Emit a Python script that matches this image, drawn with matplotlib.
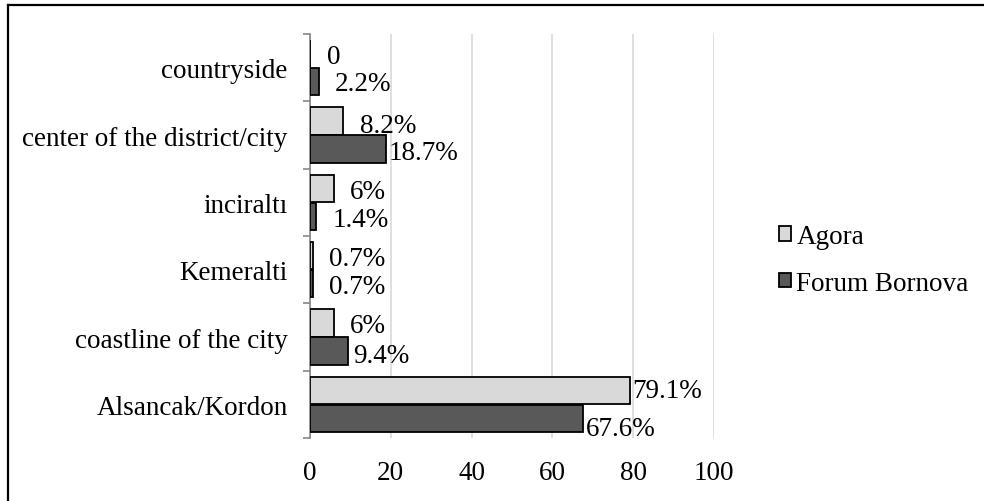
import matplotlib
matplotlib.use("Agg")
import matplotlib.pyplot as plt
from matplotlib.lines import Line2D
from matplotlib.patches import Patch
import numpy as np

plt.rcParams['font.family'] = ['Liberation Serif', 'DejaVu Serif']

categories = ["Alsancak/Kordon", "coastline of the city", "Kemeralti",
              "inciraltı", "center of the district/city", "countryside"]
agora = [79.1, 6, 0.7, 6, 8.2, 0]
forum = [67.6, 9.4, 0.7, 1.4, 18.7, 2.2]
agora_labels = ["79.1%", "6%", "0.7%", "6%", "8.2%", "0"]
forum_labels = ["67.6%", "9.4%", "0.7%", "1.4%", "18.7%", "2.2%"]
x_ticks = [0, 20, 40, 60, 80, 100]

# label nudges in pixels (dx right of bar end, dy downward)
agora_nudge = [(3, 0), (16, 3), (16, 3), (16, 3), (17, 5), (17, 3)]
forum_nudge = [(3, 10), (5, 4), (16, 3), (17, 3), (3, 3), (16, 2)]

W, H = 984, 502
fig = plt.figure(figsize=(W / 100, H / 100), dpi=100)
ax = fig.add_axes([310 / W, (H - 439) / H, (714 - 310) / W, (439 - 35) / H])

y = np.arange(len(categories))
bh = 0.405
off = 0.208
light, dark = "#d9d9d9", "#595959"

ax.barh(y + off, agora, height=bh, color=light, edgecolor="black", linewidth=1.3, zorder=3)
ax.barh(y - off, forum, height=bh, color=dark, edgecolor="black", linewidth=1.3, zorder=3)

fs = 19.5
for i in range(len(categories)):
    dx, dy = agora_nudge[i]
    ax.annotate(agora_labels[i], (agora[i], y[i] + off), xytext=(dx * 0.72, -dy * 0.72),
                textcoords="offset points", va="center", ha="left", fontsize=fs)
    dx, dy = forum_nudge[i]
    ax.annotate(forum_labels[i], (forum[i], y[i] - off), xytext=(dx * 0.72, -dy * 0.72),
                textcoords="offset points", va="center", ha="left", fontsize=fs)

ax.set_xlim(0, 100)
ax.set_ylim(-0.5, len(categories) - 0.5)
ax.set_xticks(x_ticks)
ax.set_xticklabels([str(t) for t in x_ticks], fontsize=fs)
ax.set_yticks(y)
ax.set_yticklabels(categories, fontsize=fs)
ax.set_yticks(np.arange(-0.5, len(categories), 1.0), minor=True)
ax.tick_params(axis="y", which="major", length=0, pad=16)
ax.tick_params(axis="y", which="minor", length=5, color="#868686", width=1.2)
ax.tick_params(axis="x", length=0, pad=16)

ax.grid(axis="x", color="#d9d9d9", linewidth=1.2, zorder=0)
for s in ("top", "right", "bottom"):
    ax.spines[s].set_visible(False)
ax.spines["left"].set_color("#868686")
ax.spines["left"].set_linewidth(1.2)

handles = [Patch(facecolor=light, edgecolor="black", linewidth=1.3),
           Patch(facecolor=dark, edgecolor="black", linewidth=1.3)]
fig.legend(handles, ["Agora", "Forum Bornova"], loc="center left",
           bbox_to_anchor=(768 / W, 1 - 261 / H), frameon=False, fontsize=fs,
           handlelength=0.45, handleheight=0.45, handletextpad=0.2, labelspacing=0.8,
           borderaxespad=0)

# outer frame lines (top and left)
fig.add_artist(Line2D([8 / W, 1], [1 - 6 / H, 1 - 6 / H], color="black", linewidth=1.6,
                      transform=fig.transFigure))
fig.add_artist(Line2D([8 / W, 8 / W], [0, 1 - 6 / H], color="black", linewidth=1.6,
                      transform=fig.transFigure))

fig.savefig("out.png", dpi=100)
